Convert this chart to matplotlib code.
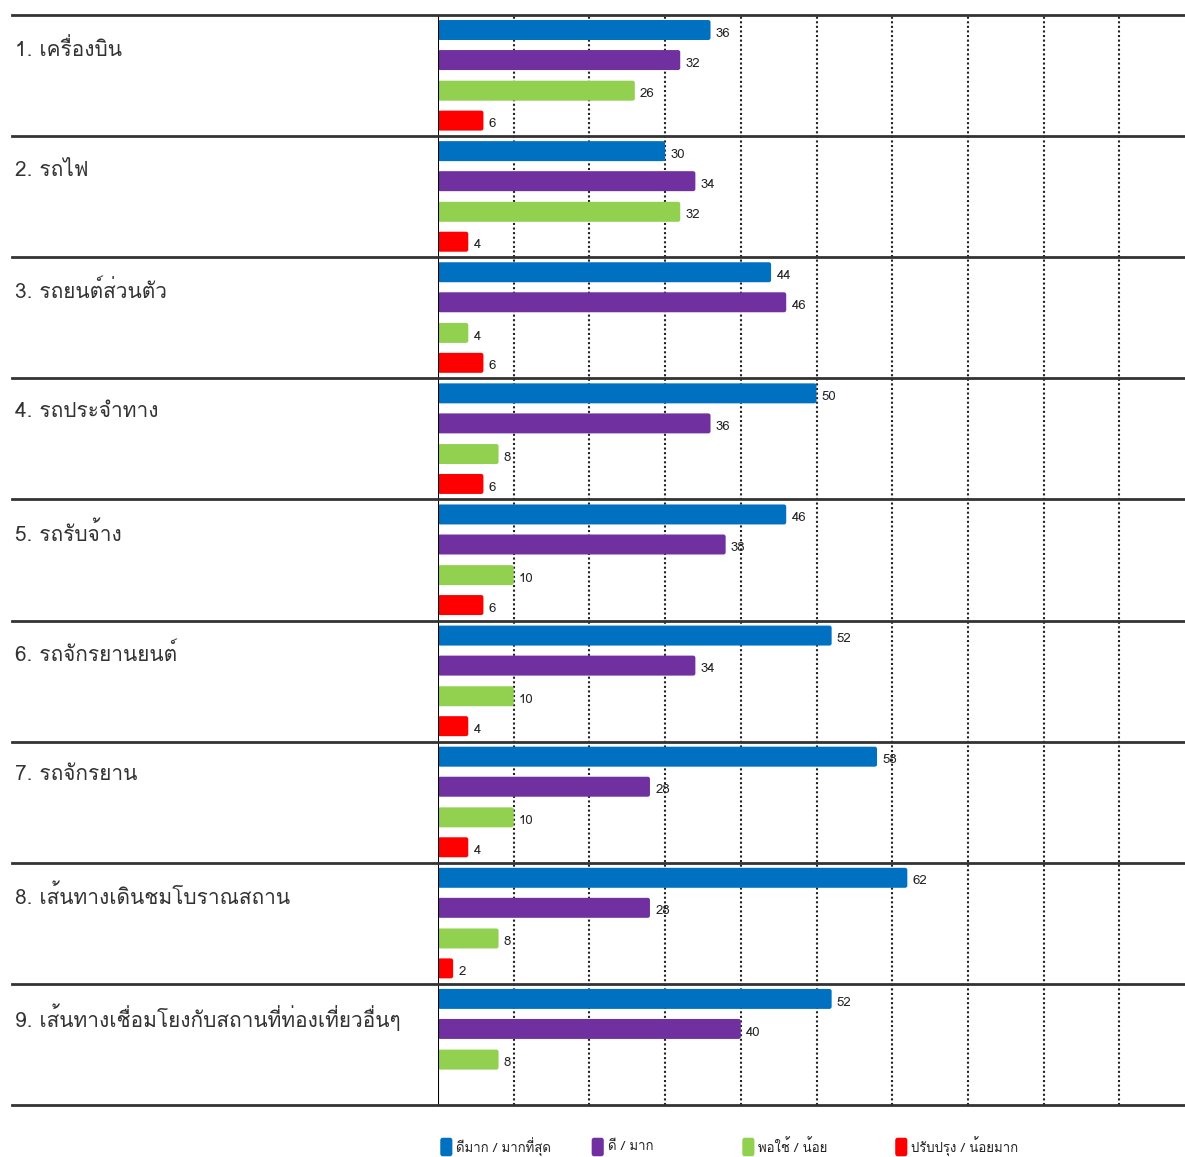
import matplotlib
matplotlib.use('Agg')
import matplotlib.pyplot as plt
from matplotlib import font_manager
from matplotlib.ft2font import FT2Font
from matplotlib.patches import FancyBboxPatch
import numpy as np

# find a font that can draw Thai
thai_font = None
for f in font_manager.fontManager.ttflist:
    try:
        if 0x0E01 in FT2Font(f.fname).get_charmap():
            thai_font = f.name
            break
    except Exception:
        pass
families = [thai_font, 'DejaVu Sans'] if thai_font else ['DejaVu Sans']
plt.rcParams['font.family'] = families

categories = ['1. เครื่องบิน', '2. รถไฟ', '3. รถยนต์ส่วนตัว', '4. รถประจำทาง', '5. รถรับจ้าง',
              '6. รถจักรยานยนต์', '7. รถจักรยาน', '8. เส้นทางเดินชมโบราณสถาน',
              '9. เส้นทางเชื่อมโยงกับสถานที่ท่องเที่ยวอื่นๆ']
very_good = [36, 30, 44, 50, 46, 52, 58, 62, 52]
good = [32, 34, 46, 36, 38, 34, 28, 28, 40]
fair = [26, 32, 4, 8, 10, 10, 10, 8, 8]
poor = [6, 4, 6, 6, 6, 4, 4, 2, 0]
series_names = ['ดีมาก / มากที่สุด', 'ดี / มาก', 'พอใช้ / น้อย', 'ปรับปรุง / น้อยมาก']
colors = ['#0070C0', '#7030A0', '#92D050', '#FF0000']

W, H = 1185, 1157
fig = plt.figure(figsize=(W / 100, H / 100), dpi=100)
ax_left, ax_top, ax_bottom = 438, 15, 1105
ax = fig.add_axes([ax_left / W, 1 - ax_bottom / H, (W - ax_left) / W, (ax_bottom - ax_top) / H])

px_per_unit = 7.57
xmax = (W - ax_left) / px_per_unit
ax.set_xlim(0, xmax)
ax.set_ylim(len(categories), 0)

offsets = [0.124, 0.372, 0.625, 0.872]
bar_h = 0.165
y = np.arange(len(categories))
for s, (vals, col, off) in enumerate(zip([very_good, good, fair, poor], colors, offsets)):
    for i, v in enumerate(vals):
        if v == 0:
            continue
        yc = y[i] + off
        p = FancyBboxPatch((0, yc - bar_h / 2), v, bar_h,
                           boxstyle='round,pad=0,rounding_size=0.3',
                           mutation_aspect=0.06, facecolor=col, edgecolor='none', zorder=3)
        ax.add_patch(p)
        ax.text(v + 0.7, yc + 0.03, str(v), fontsize=9.5, va='center', ha='left',
                color='#222222', zorder=4)

# dotted vertical gridlines
for gx in range(10, 100, 10):
    ax.axvline(gx, color='#222222', linestyle=(0, (1, 1.2)), linewidth=1.5, zorder=1)
ax.axvline(0, color='black', linewidth=1.5, zorder=5)

# horizontal separators spanning into the label area
xmin_frac = (12 - ax_left) / (W - ax_left)
for k in range(len(categories) + 1):
    ax.axhline(k, xmin=xmin_frac, xmax=1, color='#333333', linewidth=2, clip_on=False, zorder=5)

# category labels
for i, c in enumerate(categories):
    ax.text(15 / W, 1 - (ax_top + 121 * i + 34) / H, c, transform=fig.transFigure,
            fontsize=15, va='center', ha='left', color='#333333')

for sp in ax.spines.values():
    sp.set_visible(False)
ax.set_xticks([])
ax.set_yticks([])

# legend along the bottom
trans = ax.get_xaxis_transform()
leg_x = [0.3, 20.3, 40.2, 60.4]
leg_y = -(1147 - ax_bottom) / (ax_bottom - ax_top)
for lx, name, col in zip(leg_x, series_names, colors):
    box = FancyBboxPatch((lx, leg_y - 0.0085), 1.6, 0.017, boxstyle='round,pad=0,rounding_size=0.3',
                         mutation_aspect=0.008, transform=trans, facecolor=col, edgecolor='none',
                         clip_on=False)
    ax.add_patch(box)
    ax.text(lx + 2.1, leg_y, name, transform=trans, fontsize=9.5, va='center', ha='left',
            color='#222222', clip_on=False)

fig.savefig('out.png', dpi=100)
